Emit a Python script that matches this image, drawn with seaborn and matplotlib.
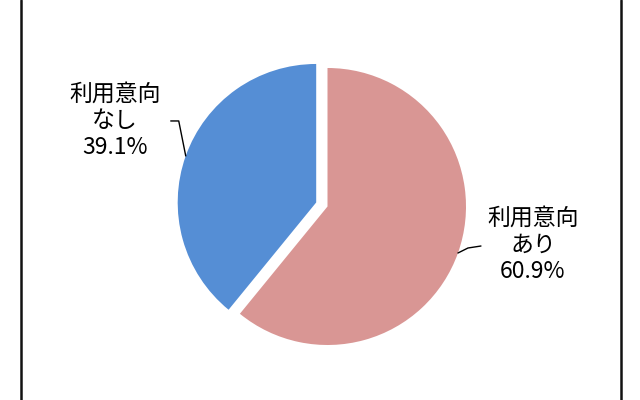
import numpy as np
import seaborn as sns
import matplotlib.pyplot as plt

# data
labels = ["利用意向\nあり", "利用意向\nなし"]
shares = [60.9, 39.1]
colors = ["#D99694", "#558ED5"]
explode = [0, 12]

sns.set_theme(style="white")
plt.rcParams["font.family"] = ["Noto Sans CJK JP", "DejaVu Sans"]

fig = plt.figure(figsize=(6.4, 4), dpi=100)
ax = fig.add_axes([0, 0, 1, 1])

# pie drawn in pixel-like units (axes spans the whole figure)
r = 138.5
wedges, _ = ax.pie(
    shares,
    colors=colors,
    startangle=90,
    counterclock=False,
    center=(327.5, 193.5),
    radius=r,
    explode=explode,
    wedgeprops=dict(linewidth=0),
    frame=True,
)
ax.set_xlim(0, 640)
ax.set_ylim(0, 400)
ax.set_aspect("equal")
ax.axis("off")

# label offsets from the leader anchor, and leader line shapes
text_offset = [(75, 8), (-71, 35)]
leader_shape = [[(10, 5), (23, 7)], [(-7, 35), (-15, 35)]]

for w, lab, v, toff, shape in zip(wedges, labels, shares, text_offset, leader_shape):
    tm = np.deg2rad((w.theta1 + w.theta2) / 2)
    cx, cy = w.center
    ax0 = cx + r * np.cos(tm)
    ay0 = cy + r * np.sin(tm)
    xs = [ax0] + [ax0 + dx for dx, dy in shape]
    ys = [ay0] + [ay0 + dy for dx, dy in shape]
    ax.plot(xs, ys, color="black", lw=1)
    ax.text(ax0 + toff[0], ay0 + toff[1], f"{lab}\n{v:.1f}%",
            ha="center", va="center", multialignment="center",
            fontsize=16.5, color="black", linespacing=1.2)

# outer frame (only the sides are visible)
ax.axvline(21, color="#111111", lw=1.8)
ax.axvline(621, color="#111111", lw=1.8)

fig.savefig("out.png", dpi=100)
